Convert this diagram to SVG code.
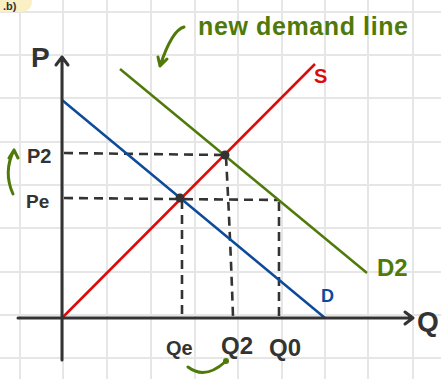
<svg xmlns="http://www.w3.org/2000/svg" width="441" height="379" viewBox="0 0 441 379">
<style>
.grid line{stroke:#e6e6e6;stroke-width:2}
.ax{stroke:#333;stroke-width:3;fill:none;stroke-linecap:round;stroke-linejoin:round}
.dash{stroke:#333;stroke-width:2.6;fill:none;stroke-dasharray:9 6}
.t{font-family:"Liberation Sans Narrow","Liberation Sans",sans-serif;font-weight:bold}
.g{fill:#4f7a0a}
.gs{stroke:#4f7a0a;stroke-width:3;fill:none;stroke-linecap:round;stroke-linejoin:round}
.k{fill:#333}
</style>
<rect width="441" height="379" fill="#fff"/>
<g class="grid">
<line x1="20" y1="0" x2="20" y2="379"/><line x1="63" y1="0" x2="63" y2="379"/><line x1="107" y1="0" x2="107" y2="379"/><line x1="151" y1="0" x2="151" y2="379"/><line x1="195" y1="0" x2="195" y2="379"/><line x1="238" y1="0" x2="238" y2="379"/><line x1="282" y1="0" x2="282" y2="379"/><line x1="325" y1="0" x2="325" y2="379"/><line x1="368" y1="0" x2="368" y2="379"/><line x1="413" y1="0" x2="413" y2="379"/>
<line x1="0" y1="12" x2="441" y2="12"/><line x1="0" y1="55" x2="441" y2="55"/><line x1="0" y1="98" x2="441" y2="98"/><line x1="0" y1="142" x2="441" y2="142"/><line x1="0" y1="185" x2="441" y2="185"/><line x1="0" y1="228" x2="441" y2="228"/><line x1="0" y1="272" x2="441" y2="272"/><line x1="0" y1="315" x2="441" y2="315"/><line x1="0" y1="358" x2="441" y2="358"/>
</g>
<g id="badge"><rect x="-10" y="-12" width="42" height="24" rx="10" fill="#fbefc4"/><text class="t k" x="3" y="10" font-size="11">.b)</text></g>
<g id="connectors">
<path class="dash" d="M64 153 L224 155"/>
<path class="dash" d="M64 198 L278 200"/>
<path class="dash" d="M182 200 L182 316"/>
<path class="dash" d="M226 157 Q230 230 233 316"/>
<path class="dash" d="M279 202 L279 316"/>
<line x1="62" y1="100" x2="325" y2="318" stroke="#0d4a9a" stroke-width="2.5"/>
<line x1="62" y1="318" x2="315" y2="64" stroke="#dd0a0a" stroke-width="2.5"/>
<line x1="120" y1="69" x2="367" y2="273" stroke="#4f7a0a" stroke-width="2.5"/>
</g>
<g id="axes">
<path class="ax" d="M62 360 L62 57 M56 65 L62 57 L68 65"/>
<path class="ax" d="M18 318 L413 318 M405 312 L413 318 L405 324"/>
</g>
<g id="points"><circle cx="180" cy="198" r="4.5" class="k"/><circle cx="225" cy="155" r="4.5" class="k"/></g>
<g id="labels">
<text class="t k" x="31" y="67" font-size="28">P</text>
<text class="t k" x="417" y="331" font-size="28">Q</text>
<text class="t" x="314" y="83" font-size="20" fill="#dd0a0a">S</text>
<text class="t" x="321" y="302" font-size="18" fill="#0d4a9a">D</text>
<text class="t g" x="377" y="276" font-size="24">D2</text>
<text class="t k" x="27" y="163" font-size="20">P2</text>
<text class="t k" x="26" y="208" font-size="19">Pe</text>
<text class="t k" x="166" y="355" font-size="20">Qe</text>
<text class="t k" x="221" y="354" font-size="24">Q2</text>
<text class="t k" x="269" y="356" font-size="24">Q0</text>
<text class="t g" x="198" y="35" font-size="25" textLength="210">new demand line</text>
</g>
<g id="notes">
<path class="gs" d="M184 27 Q172 30 160 66 M160 66 L158 57 M160 66 L167 59"/>
<path class="gs" d="M13 194 Q3 172 14 150 M14 150 L9 158 M14 150 L18 158"/>
<path class="gs" d="M188 367 Q205 380 225 362"/><circle cx="226" cy="361" r="3" class="g"/>
</g>
</svg>
